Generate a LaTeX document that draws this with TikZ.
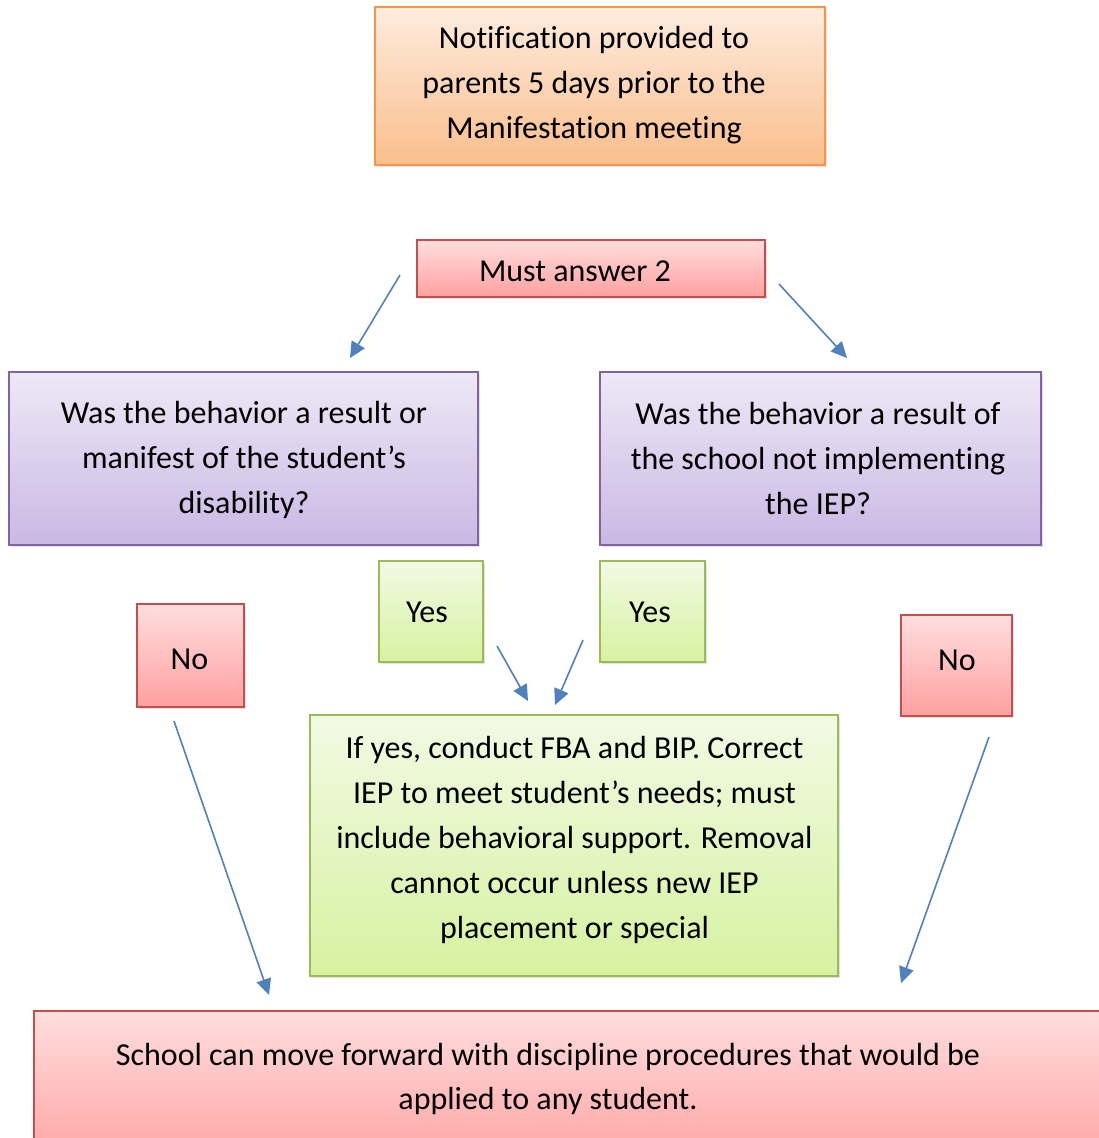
\documentclass[tikz,border=0pt]{standalone}
\usepackage{fontspec}
\setmainfont[Ligatures=NoCommon]{Carlito}
\usetikzlibrary{arrows.meta,shadows}
\definecolor{orB}{RGB}{247,150,70}\definecolor{orT}{RGB}{254,236,222}\definecolor{orD}{RGB}{250,190,140}
\definecolor{rdB}{RGB}{192,80,77}\definecolor{rdT}{RGB}{255,222,222}\definecolor{rdD}{RGB}{255,160,160}
\definecolor{puB}{RGB}{128,100,162}\definecolor{puT}{RGB}{238,232,246}\definecolor{puD}{RGB}{202,184,228}
\definecolor{grB}{RGB}{155,187,89}\definecolor{grT}{RGB}{242,250,228}\definecolor{grD}{RGB}{214,242,160}
\definecolor{arrB}{RGB}{79,129,189}
\tikzset{
  box/.style={draw, line width=1.5pt, inner sep=0pt, align=center,
    font=\fontsize{32}{45}\selectfont,
    drop shadow={opacity=0.22, shadow xshift=1.5pt, shadow yshift=-2pt}},
  orbox/.style={box, draw=orB, top color=orT, bottom color=orD},
  rdbox/.style={box, draw=rdB, top color=rdT, bottom color=rdD},
  pubox/.style={box, draw=puB, top color=puT, bottom color=puD},
  grbox/.style={box, draw=grB, top color=grT, bottom color=grD},
  txt/.style={align=center, inner sep=0pt, font=\fontsize{32}{45}\selectfont},
  conn/.style={draw=arrB, line width=1.6pt, -{Triangle[length=16pt,width=15pt]}}
}
\begin{document}
\begin{tikzpicture}[x=1pt,y=-1pt]
\useasboundingbox (0,0) rectangle (1099,1138);
\clip (0,0) rectangle (1099,1138);
\node[orbox, minimum width=450pt, minimum height=158pt] (notif) at (600,86) {};
\node[txt] (notiftext) at (594,85)
  {Notification provided to\\parents 5 days prior to the\\Manifestation meeting};
\node[rdbox, minimum width=348pt, minimum height=57pt] (must) at (591,268.5) {};
\node[txt] (musttext) at (575,271) {Must answer 2};
\node[pubox, minimum width=469pt, minimum height=173pt] (q1) at (243.5,458.5) {};
\node[txt] (q1text) at (244,460)
  {Was the behavior a result or\\manifest of the student’s\\disability?};
\node[pubox, minimum width=441pt, minimum height=173pt] (q2) at (820.5,458.5) {};
\node[txt] (q2text) at (818,458)
  {Was the behavior a result of\\the school not implementing\\the IEP?};
\node[grbox, minimum width=104pt, minimum height=101pt] (yes1) at (431,611.5) {};
\node[txt] (yes1text) at (427,612.5) {Yes};
\node[grbox, minimum width=105pt, minimum height=101pt] (yes2) at (652.5,611.5) {};
\node[txt] (yes2text) at (650,612.5) {Yes};
\node[rdbox, minimum width=107pt, minimum height=103pt] (no1) at (190.5,655.5) {};
\node[txt] (no1text) at (189.5,659.5) {No};
\node[rdbox, minimum width=111pt, minimum height=101pt] (no2) at (956.5,665.5) {};
\node[txt] (no2text) at (957,660.5) {No};
\node[grbox, minimum width=528pt, minimum height=261pt] (fba) at (574,845.5) {};
\node[txt] (fbatext) at (574.5,840)
  {If yes, conduct FBA and BIP. Correct\\IEP to meet student’s needs; must\\include behavioral support. Removal\\cannot occur unless new IEP\\placement or special};
\node[rdbox, minimum width=1100pt, minimum height=160pt, anchor=north west] (school) at (33,1010) {};
\node[txt, font=\fontsize{32}{44}\selectfont] (schooltext) at (548,1079)
  {School can move forward with discipline procedures that would be\\applied to any student.};
% connector end points
\coordinate (a1s) at (400,275); \coordinate (a1e) at (350,358);
\coordinate (a2s) at (779,284); \coordinate (a2e) at (847,358);
\coordinate (a3s) at (497,646); \coordinate (a3e) at (528,701);
\coordinate (a4s) at (583,640); \coordinate (a4e) at (555,705);
\coordinate (a5s) at (174,721); \coordinate (a5e) at (269,995);
\coordinate (a6s) at (989,737); \coordinate (a6e) at (901,983);
\draw[conn] (a1s) -- (a1e);
\draw[conn] (a2s) -- (a2e);
\draw[conn] (a3s) -- (a3e);
\draw[conn] (a4s) -- (a4e);
\draw[conn] (a5s) -- (a5e);
\draw[conn] (a6s) -- (a6e);
\end{tikzpicture}
\end{document}
